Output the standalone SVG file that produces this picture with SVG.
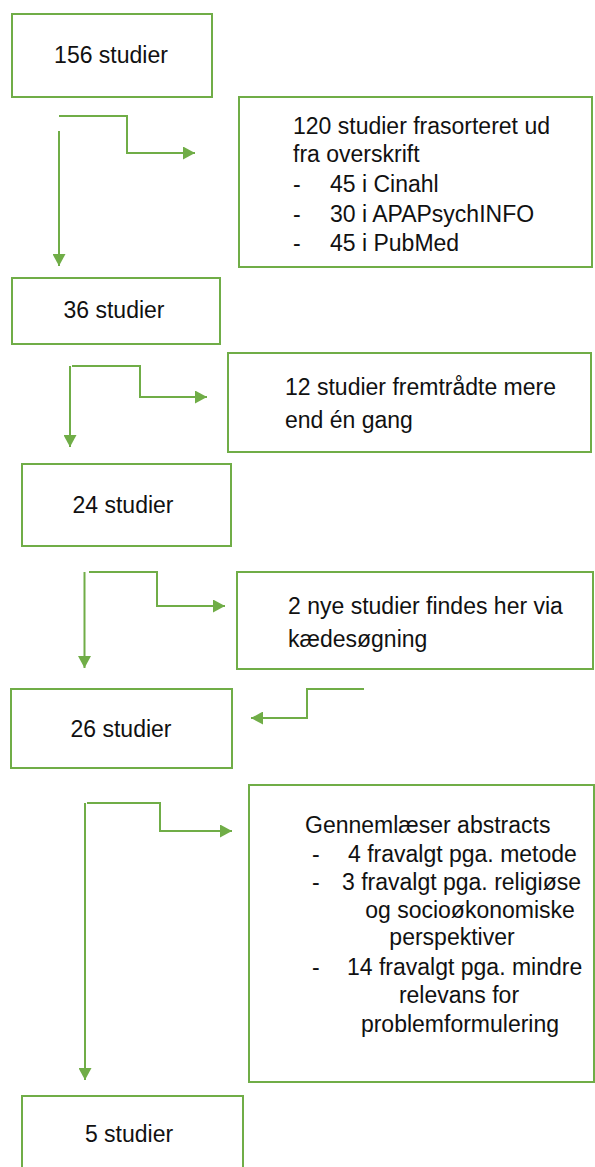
<svg xmlns="http://www.w3.org/2000/svg" width="595" height="1167" viewBox="0 0 595 1167">
<style>
.box{fill:#fff;stroke:#70AD47;stroke-width:2}
.con{fill:none;stroke:#70AD47;stroke-width:2}
text{font-family:"Liberation Sans",Arial,sans-serif;font-size:23px;fill:#111}
.c{text-anchor:middle}
</style>
<defs>
<marker id="ah" markerUnits="userSpaceOnUse" markerWidth="13" markerHeight="13" refX="12" refY="6.5" orient="auto">
<path d="M0,0 L12,6.5 L0,13 z" fill="#70AD47"/>
</marker>
</defs>
<rect width="595" height="1167" fill="#fff"/>
<g id="connectors">
<path class="con" d="M59,116 H127 V153 H195" marker-end="url(#ah)"/>
<path class="con" d="M59,131 V266" marker-end="url(#ah)"/>
<path class="con" d="M72,366 H140 V397 H207" marker-end="url(#ah)"/>
<path class="con" d="M70,366 V447" marker-end="url(#ah)"/>
<path class="con" d="M89,572 H157 V606 H225" marker-end="url(#ah)"/>
<path class="con" d="M84.5,572 V668" marker-end="url(#ah)"/>
<path class="con" d="M364,689 H307 V718 H251" marker-end="url(#ah)"/>
<path class="con" d="M87,803 H160 V831 H232" marker-end="url(#ah)"/>
<path class="con" d="M85,803 V1080" marker-end="url(#ah)"/>
</g>
<g id="n156">
<rect class="box" x="12" y="14" width="200" height="83"/>
<text class="c" x="111" y="63">156 studier</text>
</g>
<g id="n120">
<rect class="box" x="239" y="97" width="353" height="170"/>
<text x="293" y="134">120 studier frasorteret ud</text>
<text x="293" y="162">fra overskrift</text>
<text x="293" y="192">-</text><text x="330" y="192">45 i Cinahl</text>
<text x="293" y="222">-</text><text x="330" y="222">30 i APAPsychINFO</text>
<text x="293" y="251">-</text><text x="330" y="251">45 i PubMed</text>
</g>
<g id="n36">
<rect class="box" x="12" y="278" width="208" height="66"/>
<text class="c" x="114" y="318">36 studier</text>
</g>
<g id="n12">
<rect class="box" x="228" y="353" width="363" height="99"/>
<text x="285" y="395">12 studier fremtrådte mere</text>
<text x="285" y="428">end én gang</text>
</g>
<g id="n24">
<rect class="box" x="22" y="464" width="209" height="82"/>
<text class="c" x="123" y="513">24 studier</text>
</g>
<g id="n2">
<rect class="box" x="237" y="572" width="356" height="97"/>
<text x="288" y="614">2 nye studier findes her via</text>
<text x="288" y="647">kædesøgning</text>
</g>
<g id="n26">
<rect class="box" x="11" y="689" width="221" height="79"/>
<text class="c" x="121" y="737">26 studier</text>
</g>
<g id="nabs">
<rect class="box" x="249" y="785" width="345" height="297"/>
<text x="305" y="833">Gennemlæser abstracts</text>
<text x="312" y="862">-</text><text x="348" y="862">4 fravalgt pga. metode</text>
<text x="312" y="890">-</text><text x="342" y="890">3 fravalgt pga. religiøse</text>
<text class="c" x="470" y="918">og socioøkonomiske</text>
<text class="c" x="452" y="945">perspektiver</text>
<text x="312" y="975">-</text><text x="347" y="975">14 fravalgt pga. mindre</text>
<text class="c" x="459" y="1003">relevans for</text>
<text class="c" x="460" y="1032">problemformulering</text>
</g>
<g id="n5">
<rect class="box" x="22" y="1096" width="221" height="90"/>
<text class="c" x="129" y="1142">5 studier</text>
</g>
</svg>
